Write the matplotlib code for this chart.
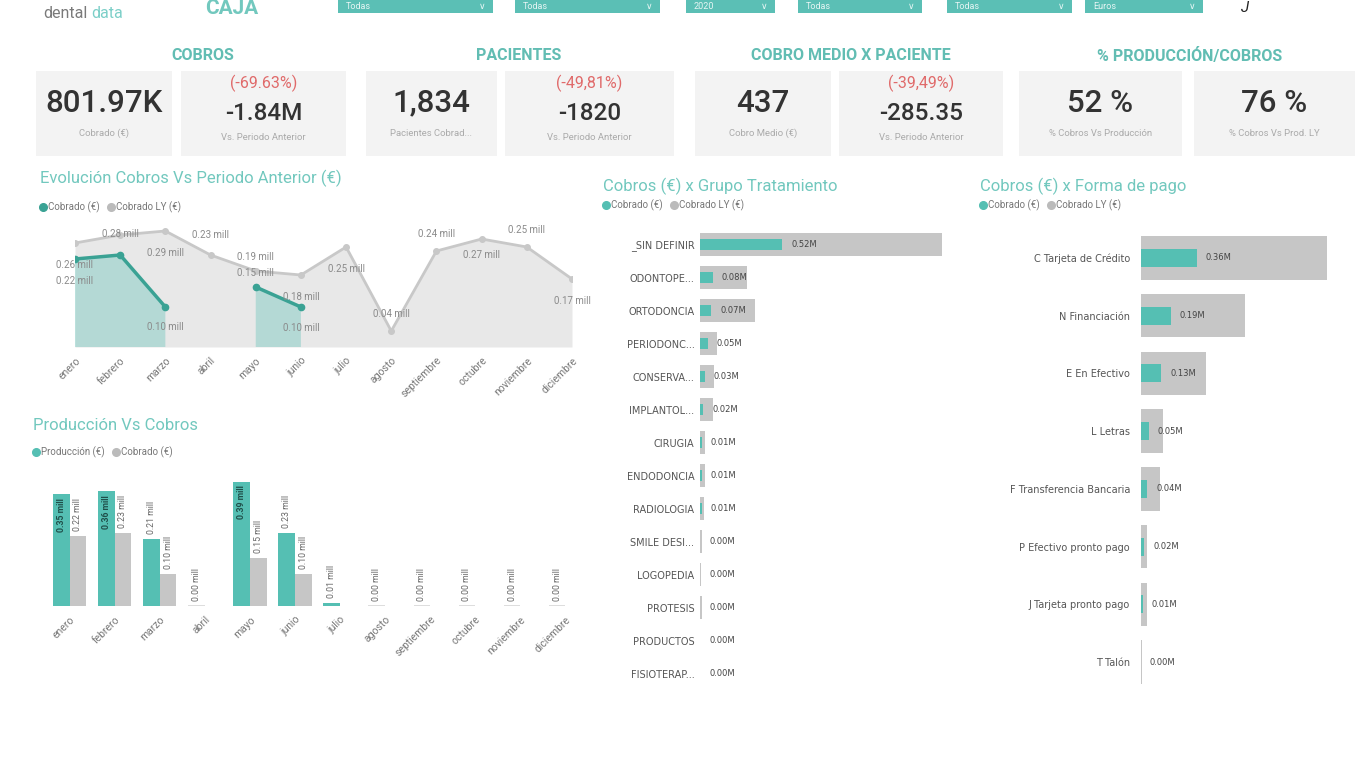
import numpy as np
import matplotlib
matplotlib.use("Agg")
import matplotlib.pyplot as plt
from matplotlib.patches import Rectangle

plt.rcParams['font.family'] = ['Roboto', 'DejaVu Sans']

# ---- datos ----
meses = ['enero', 'febrero', 'marzo', 'abril', 'mayo', 'junio', 'julio',
         'agosto', 'septiembre', 'octubre', 'noviembre', 'diciembre']
cobrado = [0.22, 0.23, 0.10, 0.00, 0.15, 0.10, 0.00, 0.00, 0.00, 0.00, 0.00, 0.00]
cobrado_ly = [0.26, 0.28, 0.29, 0.23, 0.19, 0.18, 0.25, 0.04, 0.24, 0.27, 0.25, 0.17]
produccion = [0.35, 0.36, 0.21, 0.00, 0.39, 0.23, 0.01, 0.00, 0.00, 0.00, 0.00, 0.00]

grupos = ['_SIN DEFINIR', 'ODONTOPE...', 'ORTODONCIA', 'PERIODONC...', 'CONSERVA...',
          'IMPLANTOL...', 'CIRUGIA', 'ENDODONCIA', 'RADIOLOGIA', 'SMILE DESI...',
          'LOGOPEDIA', 'PROTESIS', 'PRODUCTOS', 'FISIOTERAP...']
grupo_cobrado = [0.52, 0.08, 0.07, 0.05, 0.03, 0.02, 0.01, 0.01, 0.01, 0.00, 0.00, 0.00, 0.00, 0.00]
grupo_ly = [1.53, 0.30, 0.35, 0.11, 0.09, 0.08, 0.03, 0.03, 0.025, 0.012, 0.006, 0.01, 0.003, 0.003]

formas = ['C Tarjeta de Crédito', 'N Financiación', 'E En Efectivo', 'L Letras',
          'F Transferencia Bancaria', 'P Efectivo pronto pago', 'J Tarjeta pronto pago', 'T Talón']
forma_cobrado = [0.36, 0.19, 0.13, 0.05, 0.04, 0.02, 0.01, 0.00]
forma_ly = [1.20, 0.67, 0.42, 0.14, 0.12, 0.04, 0.04, 0.005]

kpi_titulos = ['COBROS', 'PACIENTES', 'COBRO MEDIO X PACIENTE', '% PRODUCCIÓN/COBROS']
kpi_valor = ['801.97K', '1,834', '437']
kpi_valor_sub = ['Cobrado (€)', 'Pacientes Cobrad...', 'Cobro Medio (€)']
kpi_var = ['-1.84M', '-1820', '-285.35']
kpi_var_pct = ['(-69.63%)', '(-49,81%)', '(-39,49%)']
pct_valor = ['52 %', '76 %']
pct_sub = ['% Cobros Vs Producción', '% Cobros Vs Prod. LY']

filtros = ['Todas', 'Todas', '2020', 'Todas', 'Todas', 'Euros']

# ---- estilo ----
TEAL = '#55BFB3'
TEAL_D = '#3AA294'
GREY = '#C6C6C6'
TITLE = '#72C8BE'
TXT = '#555555'
SANS = ['DejaVu Sans']

W, H = 1370, 774
fig = plt.figure(figsize=(W / 100, H / 100), dpi=100)
fig.patch.set_facecolor('white')
renderer = fig.canvas.get_renderer()

bg = fig.add_axes([0, 0, 1, 1])
bg.set_xlim(0, W)
bg.set_ylim(H, 0)
bg.axis('off')


def px_axes(x0, y0, x1, y1):
    return fig.add_axes([x0 / W, 1 - y1 / H, (x1 - x0) / W, (y1 - y0) / H])


# ---- cabecera ----
filtro_x = [(338, 493), (515, 660), (686, 775), (798, 922), (947, 1072), (1085, 1203)]
for (x0, x1), f in zip(filtro_x, filtros):
    bg.add_patch(Rectangle((x0, -6), x1 - x0, 19, color='#5BBFB5', lw=0))
    bg.text(x0 + 8, 6.5, f, color='white', fontsize=6.5, va='center', alpha=0.85)
    bg.text(x1 - 14, 6.5, '∨', color='white', fontsize=6.5, va='center', alpha=0.85)
bg.text(88, 13, 'dental', color='#7A7A7A', fontsize=11.5, ha='right', va='center')
bg.text(91, 13, 'data', color='#7CCFC8', fontsize=11.5, ha='left', va='center')
bg.text(232, 9, 'CAJA', color=TITLE, fontsize=15, fontweight='bold', ha='center', va='center')
bg.text(1245, 8, 'J', color='#222222', fontsize=11, style='italic', ha='center', va='center')

# ---- KPIs ----
titulo_x = [203, 519, 851, 1190]
for t, x in zip(kpi_titulos, titulo_x):
    bg.text(x, 56, t, color='#62BDB3', fontsize=11.5, fontweight='bold', ha='center', va='center')

tarjetas = [(36, 172), (181, 346), (366, 497), (505, 674), (695, 831), (839, 1003), (1019, 1182), (1194, 1355)]
for x0, x1 in tarjetas:
    bg.add_patch(Rectangle((x0, 71), x1 - x0, 85, color='#F3F3F3', lw=0))

for i in range(3):
    a0, a1 = tarjetas[2 * i]
    b0, b1 = tarjetas[2 * i + 1]
    ca, cb = (a0 + a1) / 2, (b0 + b1) / 2
    bg.text(ca, 103, kpi_valor[i], fontsize=22.5, color='#333333', fontweight='medium', ha='center', va='center')
    bg.text(ca, 133, kpi_valor_sub[i], fontsize=6.8, color='#AAAAAA', ha='center', va='center')
    bg.text(cb, 83, kpi_var_pct[i], fontsize=11.5, color='#E06A6A', ha='center', va='center')
    bg.text(cb, 114, kpi_var[i], fontsize=17.5, color='#333333', fontweight='medium', ha='center', va='center')
    bg.text(cb, 138, 'Vs. Periodo Anterior', fontsize=6.8, color='#AAAAAA', ha='center', va='center')
for j in range(2):
    x0, x1 = tarjetas[6 + j]
    c = (x0 + x1) / 2
    bg.text(c, 103, pct_valor[j], fontsize=22.5, color='#333333', fontweight='medium', ha='center', va='center')
    bg.text(c, 133, pct_sub[j], fontsize=6.8, color='#AAAAAA', ha='center', va='center')


def leyenda(x, y, items):
    for color, label in items:
        bg.plot(x + 3, y, 'o', color=color, ms=5.5)
        t = bg.text(x + 8, y, label, fontsize=7, color='#777777', va='center')
        x += 8 + t.get_window_extent(renderer=renderer).width + 8


# ---- Evolución cobros ----
bg.text(40, 178, 'Evolución Cobros Vs Periodo Anterior (€)', color=TITLE, fontsize=12, va='center')
leyenda(40, 207, [(TEAL_D, 'Cobrado (€)'), ('#BBBBBB', 'Cobrado LY (€)')])

ax = px_axes(75, 220, 572, 347)
x = np.arange(len(meses))
ly = np.array(cobrado_ly)
cob = np.array(cobrado)
cob_line = np.where(cob > 0, cob, np.nan)
ax.fill_between(x, 0, ly, color='#E8E8E8', lw=0)
ax.plot(x, ly, color='#C8C8C8', lw=2, marker='o', ms=4)
ax.fill_between(x, 0, cob_line, color=TEAL, alpha=0.35, lw=0)
ax.plot(x, cob_line, color=TEAL_D, lw=2.5, marker='o', ms=4.5)
ax.set_xlim(0, 11)
ax.set_ylim(0, 0.3175)

pos_ly = [-22, 1, -22, 20, 14, -22, -22, 17, 17, -16, 17, -22]
pos_cob = [-22, None, -20, None, 14, -21, None, None, None, None, None, None]
for i in range(len(meses)):
    ax.annotate(f'{cobrado_ly[i]:.2f} mill', (i, cobrado_ly[i]), xytext=(0, pos_ly[i]),
                textcoords='offset pixels', ha='center', va='center', fontsize=7,
                color='#8A8A8A', annotation_clip=False)
    if pos_cob[i] is not None:
        ax.annotate(f'{cobrado[i]:.2f} mill', (i, cobrado[i]), xytext=(0, pos_cob[i]),
                    textcoords='offset pixels', ha='center', va='center', fontsize=7,
                    color='#8A8A8A', annotation_clip=False)
ax.set_xticks(x)
ax.set_xticklabels(meses, rotation=45, ha='right', rotation_mode='anchor', fontsize=7.5, color='#777777')
ax.tick_params(length=0, pad=6)
ax.set_yticks([])
for s in ax.spines.values():
    s.set_visible(False)
ax.patch.set_alpha(0)

# ---- Producción vs cobros ----
bg.text(33, 425, 'Producción Vs Cobros', color=TITLE, fontsize=12, va='center')
leyenda(33, 452, [(TEAL, 'Producción (€)'), ('#BBBBBB', 'Cobrado (€)')])

ax2 = px_axes(47, 472, 588, 606)
prod = np.array(produccion)
bw = 0.37
ax2.bar(x - bw / 2, prod, bw, color=TEAL, lw=0)
ax2.bar(x + bw / 2, cob, bw, color=GREY, lw=0)
cero = prod == 0
ax2.bar(x[cero] - bw / 2, 0.003, bw, color='#DDDDDD', lw=0)
ax2.set_xlim(-0.5, 11.5)
ax2.set_ylim(0, 0.42)
for i in range(len(meses)):
    if prod[i] >= 0.3:
        ax2.annotate(f'{prod[i]:.2f} mill', (x[i] - bw / 2, prod[i]), xytext=(0, -4),
                     textcoords='offset pixels', rotation=90, ha='center', va='top',
                     fontsize=6.3, color='#1F4F4A', fontweight='bold')
    else:
        ax2.annotate(f'{prod[i]:.2f} mill', (x[i] - bw / 2, prod[i]), xytext=(0, 5),
                     textcoords='offset pixels', rotation=90, ha='center', va='bottom',
                     fontsize=6.3, color='#666666')
    if cob[i] > 0:
        ax2.annotate(f'{cob[i]:.2f} mill', (x[i] + bw / 2, cob[i]), xytext=(0, 5),
                     textcoords='offset pixels', rotation=90, ha='center', va='bottom',
                     fontsize=6.3, color='#666666')
ax2.set_xticks(x)
ax2.set_xticklabels(meses, rotation=45, ha='right', rotation_mode='anchor', fontsize=7.5, color='#777777')
ax2.tick_params(length=0, pad=6)
ax2.set_yticks([])
for s in ax2.spines.values():
    s.set_visible(False)
ax2.patch.set_alpha(0)

# ---- Cobros x grupo tratamiento ----
bg.text(603, 186, 'Cobros (€) x Grupo Tratamiento', color=TITLE, fontsize=12, va='center')
leyenda(603, 205, [(TEAL, 'Cobrado (€)'), ('#BBBBBB', 'Cobrado LY (€)')])


def barras_h(axh, cats, actual, previo, alto_ly, alto_act, xmax):
    y = np.arange(len(cats))
    axh.barh(y, previo, alto_ly, color=GREY, lw=0)
    axh.barh(y, actual, alto_act, color=TEAL, lw=0)
    for i, v in enumerate(actual):
        axh.annotate(f'{v:.2f}M', (v, i), xytext=(9, 0), textcoords='offset pixels',
                     ha='left', va='center', fontsize=6, color='#444444', family=SANS)
    axh.set_xlim(0, xmax)
    axh.set_ylim(len(cats) - 0.5, -0.5)
    axh.set_yticks(y)
    axh.set_yticklabels(cats, fontsize=7, color=TXT, family=SANS)
    axh.set_xticks([])
    axh.tick_params(length=0)
    for s in axh.spines.values():
        s.set_visible(False)
    axh.patch.set_alpha(0)


ax3 = px_axes(700, 228, 961, 690)
barras_h(ax3, grupos, grupo_cobrado, grupo_ly, 0.68, 0.32, 1.65)
ax3.tick_params(axis='y', pad=4)

# ---- Cobros x forma de pago ----
bg.text(980, 186, 'Cobros (€) x Forma de pago', color=TITLE, fontsize=12, va='center')
leyenda(980, 205, [(TEAL, 'Cobrado (€)'), ('#BBBBBB', 'Cobrado LY (€)')])

ax4 = px_axes(1141, 229, 1346, 691)
barras_h(ax4, formas, forma_cobrado, forma_ly, 0.75, 0.31, 1.32)
ax4.tick_params(axis='y', pad=8)

fig.savefig('out.png', dpi=100, facecolor='white')
